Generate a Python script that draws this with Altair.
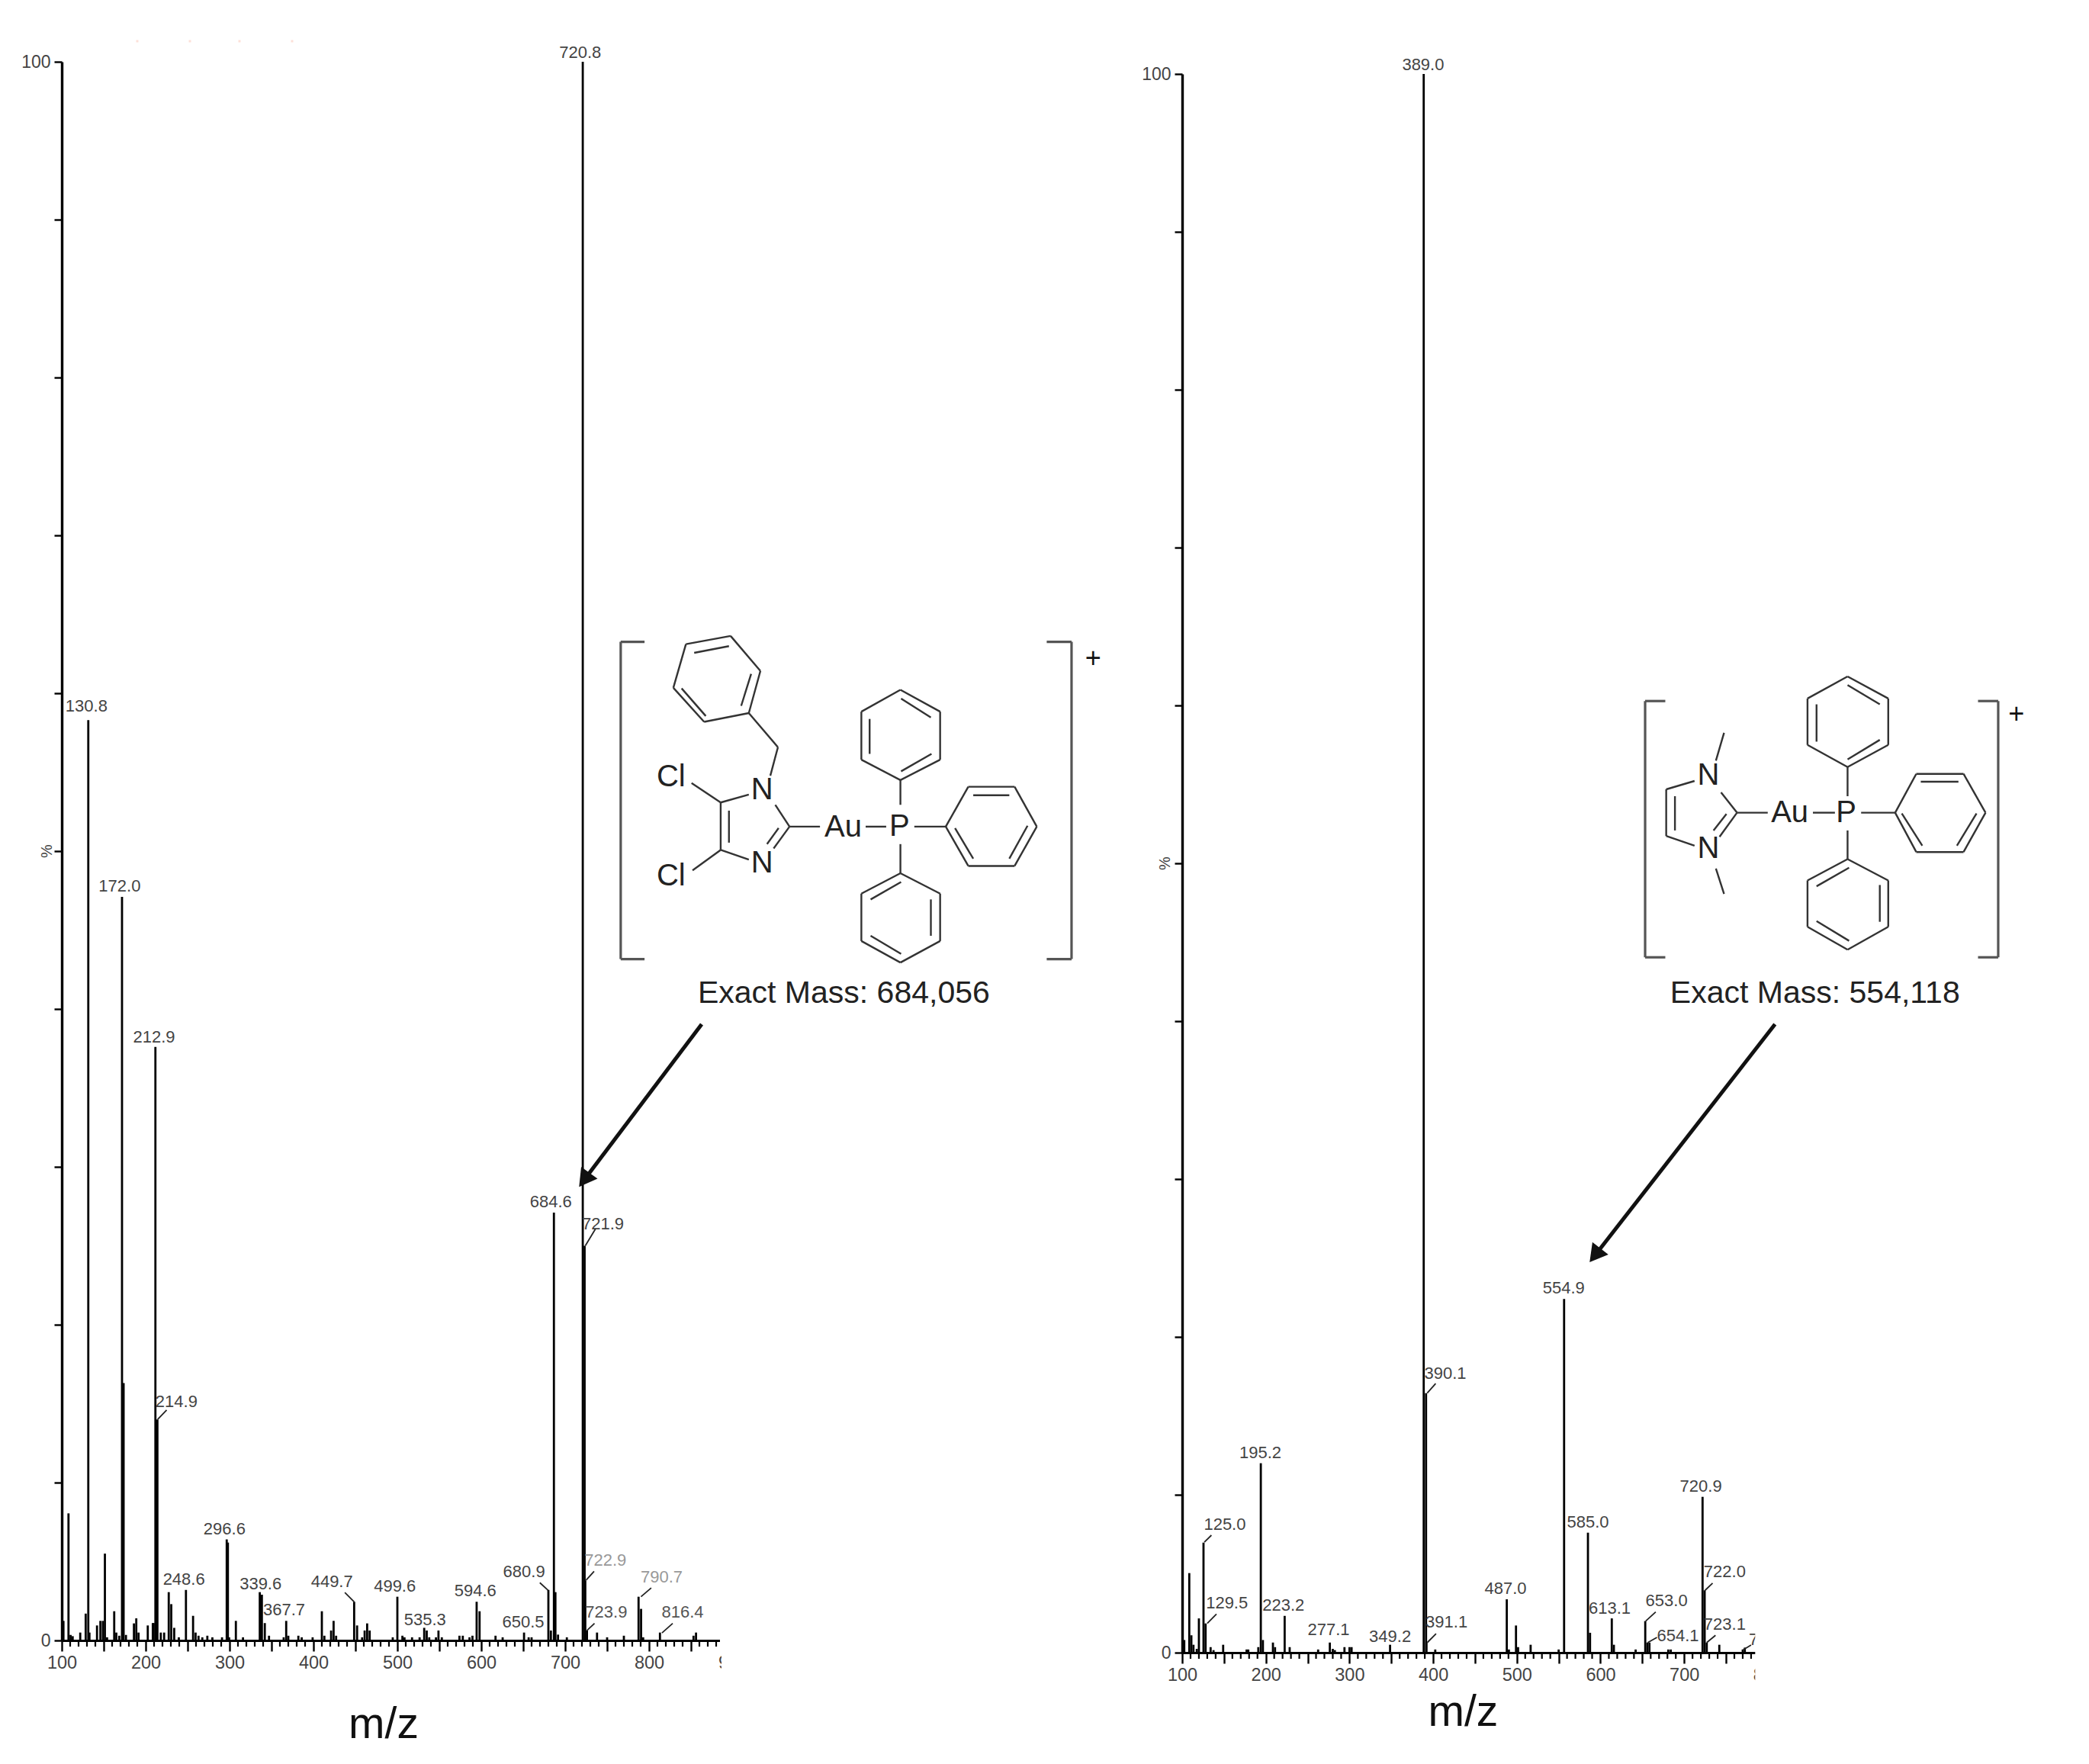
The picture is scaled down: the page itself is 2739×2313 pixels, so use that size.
import altair as alt
import pandas as pd

FONT = "Liberation Sans"

# ---------- left spectrum (m/z, %) ----------
L_MZ = [102,108,110.5,113,122,128.5,131.6,133,142,146,149,151.4,154,162.5,165,168.5,171.8,173.7,176.5,186,188.8,191.5,
        202.5,208.5,209.5,211.6,214,218,222,227.5,230.5,234,239.5,248,256.5,259.5,263,267.5,273.5,279.5,291,296.6,298,299.5,
        307.5,316,336,338.5,342,347,364.5,367.5,370,382,386,399,410,413,421,424,427,448.5,452,458,461,464,467,
        494.5,500,506,508.5,517.5,526.5,532,535,538,546,549,553,574,578,586,589.5,594.5,598,617,625.5,651,656.5,660,
        680,683,686.6,688.4,691.5,702,721,723.2,724,726,738,750,770,787.5,790.5,793,813,853,856]
L_PCT = [1.24,8.05,.35,.27,.5,1.7,58.3,.5,.95,1.24,1.24,5.5,.2,1.85,.5,.3,47.1,16.3,.35,1.08,1.4,.5,
         .95,1.1,1.1,37.6,14,.5,.5,3.06,2.3,.8,.2,3.2,1.56,.5,.3,.2,.3,.2,.2,6.4,6.2,.2,
         1.24,.2,3.06,2.9,1.1,.3,.2,1.24,.3,.3,.2,.2,1.85,.3,.63,1.24,.3,2.45,.95,.2,.63,1.08,.63,
         .2,2.77,.3,.2,.2,.2,.8,.63,.2,.2,.63,.2,.3,.3,.2,.3,2.45,1.85,.3,.2,.5,.2,.2,
         3.2,.63,27.1,3.06,.37,.2,100,25,3.8,.63,.5,.2,.3,2.77,2.0,.2,.5,.3,.5]
L_LABELS = ["720.8","130.8","172.0","212.9","214.9","684.6","721.9","296.6","248.6","339.6","367.7","449.7","499.6",
            "535.3","594.6","680.9","650.5","722.9","723.9","790.7","816.4"]
L_LAB_MZ = [718,129.4,169,210,236.7,683,745,294,245.6,337,365,422,497,533,593,651,650,748,749,815,840]
L_LAB_PCT = [100.6,59.2,47.8,38.2,15.1,27.8,26.4,7.04,3.86,3.57,1.92,3.74,3.41,1.29,3.14,4.33,1.16,5.07,1.77,4.03,1.77]
L_LAB_COL = ["#444"]*17 + ["#999","#555","#999","#555"]
L_LEAD_X = [725,726,790.4,679.8,448.5,815.4,214.3,724]
L_LEAD_Y = [3.82,.63,2.77,3.17,2.45,.48,14,25]
L_LEAD_X2 = [734.5,735,802.6,669.8,437.4,828.2,225,736.5]
L_LEAD_Y2 = [4.38,1.08,3.33,3.66,3.04,1.08,14.6,26.1]

# ---------- right spectrum ----------
R_MZ = [102.5,108.5,111,113.5,117.5,120,125.5,128,134,137.5,149,177,179,191,194,196.5,208.5,211,222.5,228.5,262.5,
        276.5,280,282.5,294,300,302.5,348.5,388.7,391.5,392,402.5,488,490.5,499,501.5,516.5,550,556.5,585,587.5,613.5,616,
        642,653.5,656,658.5,681,684,722,724.5,727,742,770,772.5]
R_PCT = [.8,5.04,1.1,.5,.24,2.17,6.97,1.85,.35,.16,.5,.2,.2,.35,12.0,.8,.64,.35,2.33,.35,.2,
         .64,.24,.16,.35,.35,.35,.5,100,16.44,.64,.2,3.38,.2,1.72,.35,.5,.2,22.4,7.6,1.26,2.17,.5,
         .2,2.0,.64,.64,.2,.2,9.87,3.95,.64,.5,.2,.32]
R_LABELS = ["389.0","554.9","390.1","195.2","125.0","129.5","223.2","277.1","349.2","391.1","487.0","585.0","613.1",
            "653.0","654.1","720.9","722.0","723.1","7"]
R_LAB_MZ = [388,556,414.5,193.5,151,153.5,221,275,348.5,416,486.5,585,611,679,692.5,720,748.5,748.5,783]
R_LAB_PCT = [100.6,23.1,17.7,12.67,8.13,3.14,3.01,1.45,1.01,1.93,4.06,8.26,2.82,3.3,1.05,10.55,5.1,1.77,.8]
R_LEAD_X = [126.5,130,393,654,656.5,725,727,770,392.9]
R_LEAD_Y = [7.0,1.85,.64,2.0,.64,3.95,.64,.16,16.44]
R_LEAD_X2 = [135,141,403.5,666,667.5,734,737.5,780,403]
R_LEAD_Y2 = [7.44,2.45,1.2,2.58,.97,4.4,1.1,.48,17.05]

X_MAJOR_L = list(range(100, 901, 50))
X_MAJOR_R = list(range(100, 801, 50))
X_MINOR = [m for m in range(100, 890, 10) if m % 50]
Y_TICKS = list(range(0, 101, 10))

# ---------- molecules, in crop coordinates ----------
RING_A = [[(410,60),(500,180),(465,325),(330,355),(237,238),(275,88),(410,60)],
          [(923,245),(1043,320),(1043,485),(923,555),(805,485),(805,320),(923,245)],
          [(1060,715),(1128,578),(1268,578),(1335,715),(1268,850),(1128,850),(1060,715)],
          [(923,875),(1043,945),(1043,1108),(923,1182),(805,1108),(805,945),(923,875)]]
BOND_A = [(300,118,405,95),(472,190,442,300),(335,335,262,240),(465,325,553,442),(553,442,530,540),
          (380,632,465,605),(380,632,380,795),(405,660,405,770),(380,795,465,828),(588,715,545,640),(588,715,540,790),
          (555,720,520,775),(380,632,292,565),(380,795,295,865),(588,715,680,715),(818,715,880,715),(965,715,1060,715),
          (923,640,923,555),(923,775,923,875),(925,275,1015,340),(830,345,830,465),(925,525,1017,465),
          (1143,607,1252,607),(1088,720,1143,825),(1307,712,1252,825),(925,905,833,965),(1015,965,1015,1090),(925,1152,833,1090)]
BRK_A = [(150,80,78,80),(78,80,78,1170),(78,1170,150,1170),(1365,80,1440,80),(1440,80,1440,1170),(1440,1170,1365,1170)]
ATOM_A = [("Cl",230,545),("Cl",230,885),("N",505,590),("N",505,840),("Au",750,718),("P",920,715)]
RING_B = [[(770,78),(905,165),(905,348),(770,435),(637,348),(637,165),(770,78)],
          [(928,615),(998,462),(1155,462),(1228,615),(1155,770),(998,770),(928,615)],
          [(770,798),(905,882),(905,1065),(770,1155),(637,1065),(637,882),(770,798)]]
BOND_B = [(168,523,168,707),(168,523,262,490),(168,707,262,745),(197,550,197,685),(403,615,350,535),(403,615,345,710),
          (368,620,325,685),(360,300,333,410),(333,835,360,935),(403,615,505,615),(655,615,728,615),(815,615,928,615),
          (770,550,770,435),(770,685,770,798),(770,112,877,188),(667,188,667,335),(770,405,877,328),
          (1013,493,1138,493),(950,618,1018,745),(1198,618,1133,745),(775,832,667,905),(877,900,877,1045),(775,1120,667,1042)]
BRK_B = [(165,175,98,175),(98,175,98,1185),(98,1185,165,1185),(1203,175,1270,175),(1270,175,1270,1185),(1270,1185,1203,1185)]
ATOM_B = [("N",308,470),("N",308,758),("Au",578,615),("P",765,615)]

H = 2070
W1 = 1380
W2 = 1150
LEFT_X0, LEFT_Y0 = 81, 80
RIGHT_X0, RIGHT_Y0 = 1551.7, 80
H2 = H + 16


def segs(rings, bonds, ox, oy, kx, ky):
    rows = list(bonds)
    for r in rings:
        rows += [(*r[i], *r[i+1]) for i in range(len(r)-1)]
    return pd.DataFrame([dict(x=ox+kx*a, y=oy+ky*b, x2=ox+kx*c, y2=oy+ky*d) for a, b, c, d in rows])


def overlay(x0, y0, w, h, mol, rings, bonds, brk, atoms, plus_xy, mass, mass_xy, title_xy, arrow, tip, angle, masks, pct_xy, dots=None):
    ox, oy, kx, ky = mol
    xs = alt.Scale(domain=[x0, x0+w], range=[0, w])
    ys = alt.Scale(domain=[y0, y0+h], range=[0, h])
    X, Y = alt.X("x:Q", scale=xs, axis=None), alt.Y("y:Q", scale=ys, axis=None)
    enc = dict(x=X, y=Y, x2="x2:Q", y2="y2:Q")
    text = dict(x=X, y=Y, text="t:N")
    parts = []
    d_m = pd.DataFrame([dict(x=a, x2=b, y=c, y2=d) for a, b, c, d in masks])
    parts.append(alt.Chart(d_m).mark_rect(color="white").encode(**enc))
    parts.append(alt.Chart(segs(rings, bonds, ox, oy, kx, ky)).mark_rule(color="#333", strokeWidth=2.4).encode(**enc))
    parts.append(alt.Chart(segs([], brk, ox, oy, kx, ky)).mark_rule(color="#555", strokeWidth=3.2).encode(**enc))
    d_a = pd.DataFrame([dict(t=t, x=ox+kx*a, y=oy+ky*b) for t, a, b in atoms])
    parts.append(alt.Chart(d_a).mark_text(font=FONT, fontSize=40, color="#222").encode(**text))
    d_p = pd.DataFrame([dict(t="+", x=ox+kx*plus_xy[0], y=oy+ky*plus_xy[1])])
    parts.append(alt.Chart(d_p).mark_text(font=FONT, fontSize=36, color="#111").encode(**text))
    d_e = pd.DataFrame([dict(t=mass, x=ox+kx*mass_xy[0], y=oy+ky*mass_xy[1])])
    parts.append(alt.Chart(d_e).mark_text(font=FONT, fontSize=41, color="#222").encode(**text))
    d_t = pd.DataFrame([dict(t="m/z", x=title_xy[0], y=title_xy[1])])
    parts.append(alt.Chart(d_t).mark_text(font=FONT, fontSize=57, color="#111").encode(**text))
    d_pc = pd.DataFrame([dict(t="%", x=pct_xy[0], y=pct_xy[1])])
    parts.append(alt.Chart(d_pc).mark_text(font=FONT, fontSize=20, color="#444", angle=270).encode(**text))
    d_ar = pd.DataFrame([dict(x=arrow[0], y=arrow[1], x2=tip[0], y2=tip[1])])
    parts.append(alt.Chart(d_ar).mark_rule(color="#111", strokeWidth=5).encode(**enc))
    d_tip = pd.DataFrame([dict(x=tip[0], y=tip[1])])
    parts.append(alt.Chart(d_tip).mark_point(shape="triangle-up", filled=True, color="#111", size=700, angle=angle, opacity=1).encode(x=X, y=Y))
    if dots:
        d_d = pd.DataFrame([dict(x=a, y=b) for a, b in dots])
        parts.append(alt.Chart(d_d).mark_point(shape="square", filled=True, color="#fde0d8", size=9, opacity=1).encode(x=X, y=Y))
    return alt.layer(*parts)


def spectrum(mz, pct, labels, lab_mz, lab_pct, lab_col, lx, ly, lx2, ly2, domain, rng, yrange, majors):
    xs = alt.Scale(domain=domain, range=rng)
    ys = alt.Scale(domain=[0, 100], range=yrange)
    xax = alt.Axis(values=majors, labelExpr="datum.value % 100 === 0 ? datum.label : ''", title=None, grid=False,
                   tickSize=14, tickWidth=2.4, tickColor="black", domainWidth=3.2, domainColor="black",
                   labelFont=FONT, labelFontSize=23.5, labelColor="#444", labelPadding=3, format="d", labelOverlap=False, labelFlush=False)
    yax = alt.Axis(values=Y_TICKS, labelExpr="datum.value === 0 || datum.value === 100 ? datum.label : ''", title=None, grid=False,
                   tickSize=10, tickWidth=2.4, tickColor="black", domainWidth=3.4, domainColor="black",
                   labelFont=FONT, labelFontSize=23, labelColor="#444", labelPadding=5, format="d", labelOverlap=False)
    df = pd.DataFrame(dict(mz=mz, pct=pct))
    X = alt.X("mz:Q", scale=xs, axis=xax)
    Y = alt.Y("pct:Q", scale=ys, axis=yax)
    peaks = alt.Chart(df).mark_rule(color="black", strokeWidth=2.8).encode(x=X, y=Y, y2=alt.datum(0))
    minor_mz = [m for m in X_MINOR if m <= domain[1]]
    minor = pd.DataFrame(dict(mz=minor_mz, pct=[0.0]*len(minor_mz), end=[-0.39]*len(minor_mz)))
    mt = alt.Chart(minor).mark_rule(color="black", strokeWidth=2.2).encode(x=X, y=Y, y2="end:Q")
    ld = pd.DataFrame(dict(mz=lx, pct=ly, mz2=lx2, pct2=ly2))
    leads = alt.Chart(ld).mark_rule(color="#222", strokeWidth=1.8).encode(x=X, y=Y, x2="mz2:Q", y2="pct2:Q")
    tx = pd.DataFrame(dict(mz=lab_mz, pct=lab_pct, t=labels, c=lab_col))
    texts = alt.Chart(tx).mark_text(font=FONT, fontSize=22).encode(x=X, y=Y, text="t:N", color=alt.Color("c:N", scale=None))
    return alt.layer(peaks, mt, leads, texts)


left = alt.layer(
    spectrum(L_MZ, L_PCT, L_LABELS, L_LAB_MZ, L_LAB_PCT, L_LAB_COL, L_LEAD_X, L_LEAD_Y, L_LEAD_X2, L_LEAD_Y2,
             [100, 900], [0, 880], [H, 0], X_MAJOR_L),
    overlay(LEFT_X0, LEFT_Y0, W1, H, (780, 810, .434, .3817), RING_A, BOND_A, BRK_A, ATOM_A, (1505, 140),
            "Exact Mass: 684,056", (752, 1290), (503, 2261), (920, 1342), (766, 1546), 216,
            [(944, 1010, 2125, 2162), (946, 1010, 2162, 2215)], (62, 1115),
            dots=[(180, 53), (249, 53), (314, 53), (383, 53)]),
).resolve_scale(x="independent", y="independent").properties(width=W1, height=H)

right = alt.layer(
    spectrum(R_MZ, R_PCT, R_LABELS, R_LAB_MZ, R_LAB_PCT, ["#444"]*len(R_LABELS), R_LEAD_X, R_LEAD_Y, R_LEAD_X2, R_LEAD_Y2,
             [100, 830], [0, 800.8], [H2, 16], X_MAJOR_R),
    overlay(RIGHT_X0, RIGHT_Y0, W2, H2, (2120, 860, .395, .3327), RING_B, BOND_B, BRK_B, ATOM_B, (1330, 228),
            "Exact Mass: 554,118", (662, 1330), (1920, 2245), (2329, 1342), (2093, 1645), 218,
            [(2303, 2400, 2130, 2230)], (1530, 1131)),
).resolve_scale(x="independent", y="independent").properties(width=W2, height=H2)

chart = alt.hconcat(left, right, spacing=35).properties(
    padding={"left": 19, "top": 44, "right": 5, "bottom": 5}, background="white"
).configure_view(stroke=None)

chart.save("out.html", embed_options={"renderer": "svg", "actions": False})
